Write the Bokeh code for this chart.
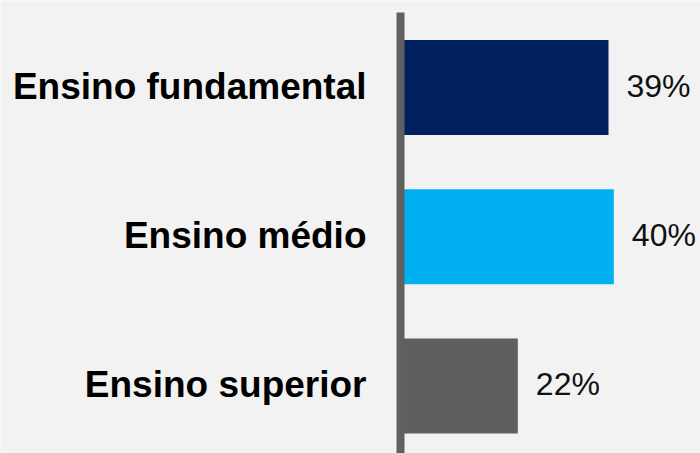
from bokeh.plotting import figure
from bokeh.models import Range1d, ColumnDataSource
from bokeh.core.properties import value
from bokeh.embed import file_html
from bokeh.resources import INLINE

categories = ["Ensino fundamental", "Ensino médio", "Ensino superior"]
shares = [39, 40, 22]
labels = ["39%", "40%", "22%"]
colors = ["#002060", "#00b0f0", "#5f5f5f"]

n = len(categories)
ypos = [n - 1 - i for i in range(n)]
src = ColumnDataSource(dict(y=ypos, v=shares, cat=categories, lab=labels, color=colors))

BG = "#f2f2f2"
p = figure(width=700, height=453, output_backend="svg", toolbar_location=None,
           x_range=Range1d(-75.0, 56.25), y_range=Range1d(-0.4523, 2.583),
           x_axis_type=None, y_axis_type=None, min_border=0)
p.grid.visible = False
p.outline_line_color = None
p.background_fill_color = BG
p.border_fill_color = BG

p.hbar(y="y", left=0, right="v", height=0.636, fill_color="color",
       line_color=None, source=src)
p.segment(x0=0, y0=-1, x1=0, y1=n - 0.5 + 0.0025, line_width=8,
          line_color="#606060", line_cap="butt")
p.text(x=0, y="y", text="cat", x_offset=-34, y_offset=-1.5, text_align="right",
       text_baseline="alphabetic", text_font=value("Liberation Sans"),
       text_font_style="bold", text_font_size="37px", text_color="black", source=src)
p.text(x="v", y="y", text="lab", x_offset=18, y_offset=-2, text_align="left",
       text_baseline="alphabetic", text_font=value("Liberation Sans"),
       text_font_size="32px", text_color="#111111", source=src)

html = file_html(p, INLINE)
html = html.replace("<body>", '<body style="margin:0;background:%s">' % BG, 1)
open("out.html", "w").write(html)
